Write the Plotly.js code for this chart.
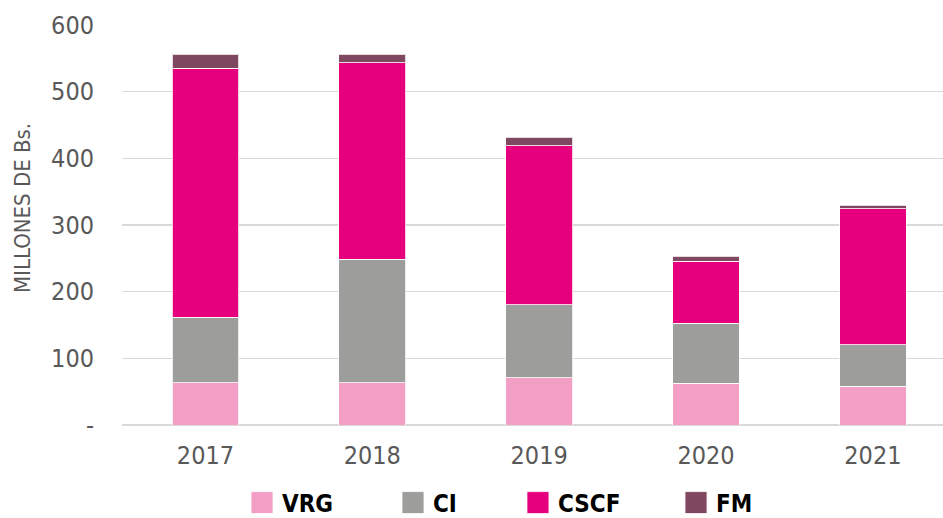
<!DOCTYPE html>
<html><head><meta charset="utf-8">
<script src="https://cdn.plot.ly/plotly-3.0.1.min.js"></script>
<style>html,body{margin:0;padding:0;background:#fff;}#chart{width:943px;height:518px;}</style>
</head><body><div id="chart"></div>
<script>
var years = ['2017','2018','2019','2020','2021'];
var VRG  = [63.5, 63.5, 71, 63, 58.5];
var CI   = [98, 185.5, 109.5, 90, 62];
var CSCF = [373.5, 294.5, 238.5, 92.5, 204];
var FM   = [21, 12.5, 12.5, 8, 5];
var seriesNames = ['VRG','CI','CSCF','FM'];
var colors = ['#F39FC5','#9D9D9C','#E6007E','#7F4760'];
var yTickVals = [0,100,200,300,400,500,600];
var yTickText = ['-','100','200','300','400','500','600'];
var yTitle = 'MILLONES DE Bs.';

var FONT = '"DejaVu Sans Condensed", "Roboto", sans-serif';
var legendIds = ['legend','legend2','legend3','legend4'];
var legendX = [0.1462, 0.3301, 0.4823, 0.6748];
var data = [VRG, CI, CSCF, FM].map(function(v, i){
  return {type:'bar', x: years, y: v, name: seriesNames[i], legend: legendIds[i],
    marker:{color: colors[i], line:{color:'rgba(255,255,255,0.8)', width:1}}, hoverinfo:'skip'};
});
var layout = {
  width:943, height:518,
  margin:{l:122, r:0, t:25, b:93, autoexpand:false},
  barmode:'stack', bargap:0.6,
  paper_bgcolor:'#fff', plot_bgcolor:'#fff',
  font:{family:FONT, color:'#595959'},
  xaxis:{type:'category', range:[-0.5,4.42], tickfont:{size:25, color:'#595959'}, ticks:'outside', ticklen:8, tickcolor:'rgba(0,0,0,0)', showline:false, showgrid:false},
  yaxis:{range:[0,600], tickvals:yTickVals, ticktext:yTickText, tickfont:{size:25, color:'#595959'},
    showgrid:true, gridcolor:'#D9D9D9', gridwidth:1.5, zeroline:true, zerolinecolor:'#D9D9D9', zerolinewidth:1.5,
    ticks:'outside', ticklen:22, tickcolor:'rgba(0,0,0,0)'},
  annotations:[{text:yTitle, xref:'paper', yref:'paper', x:-0.1218, y:0.5425, xanchor:'center', yanchor:'middle',
    textangle:-90, showarrow:false, font:{family:FONT, size:22, color:'#595959'}}],
  showlegend:true
};
legendIds.forEach(function(id, i){
  layout[id] = {orientation:'h', x:legendX[i], xanchor:'left', y:-0.195, yanchor:'middle',
    font:{family:FONT, size:24, color:'#000', weight:'bold'}, bgcolor:'rgba(0,0,0,0)'};
});
Plotly.newPlot('chart', data, layout, {displayModeBar:false, staticPlot:true}).then(function(){
  document.querySelectorAll('.legendpoints path').forEach(function(p){
    p.setAttribute('d','M11,11H-11V-11H11Z');
  });
});
</script></body></html>
